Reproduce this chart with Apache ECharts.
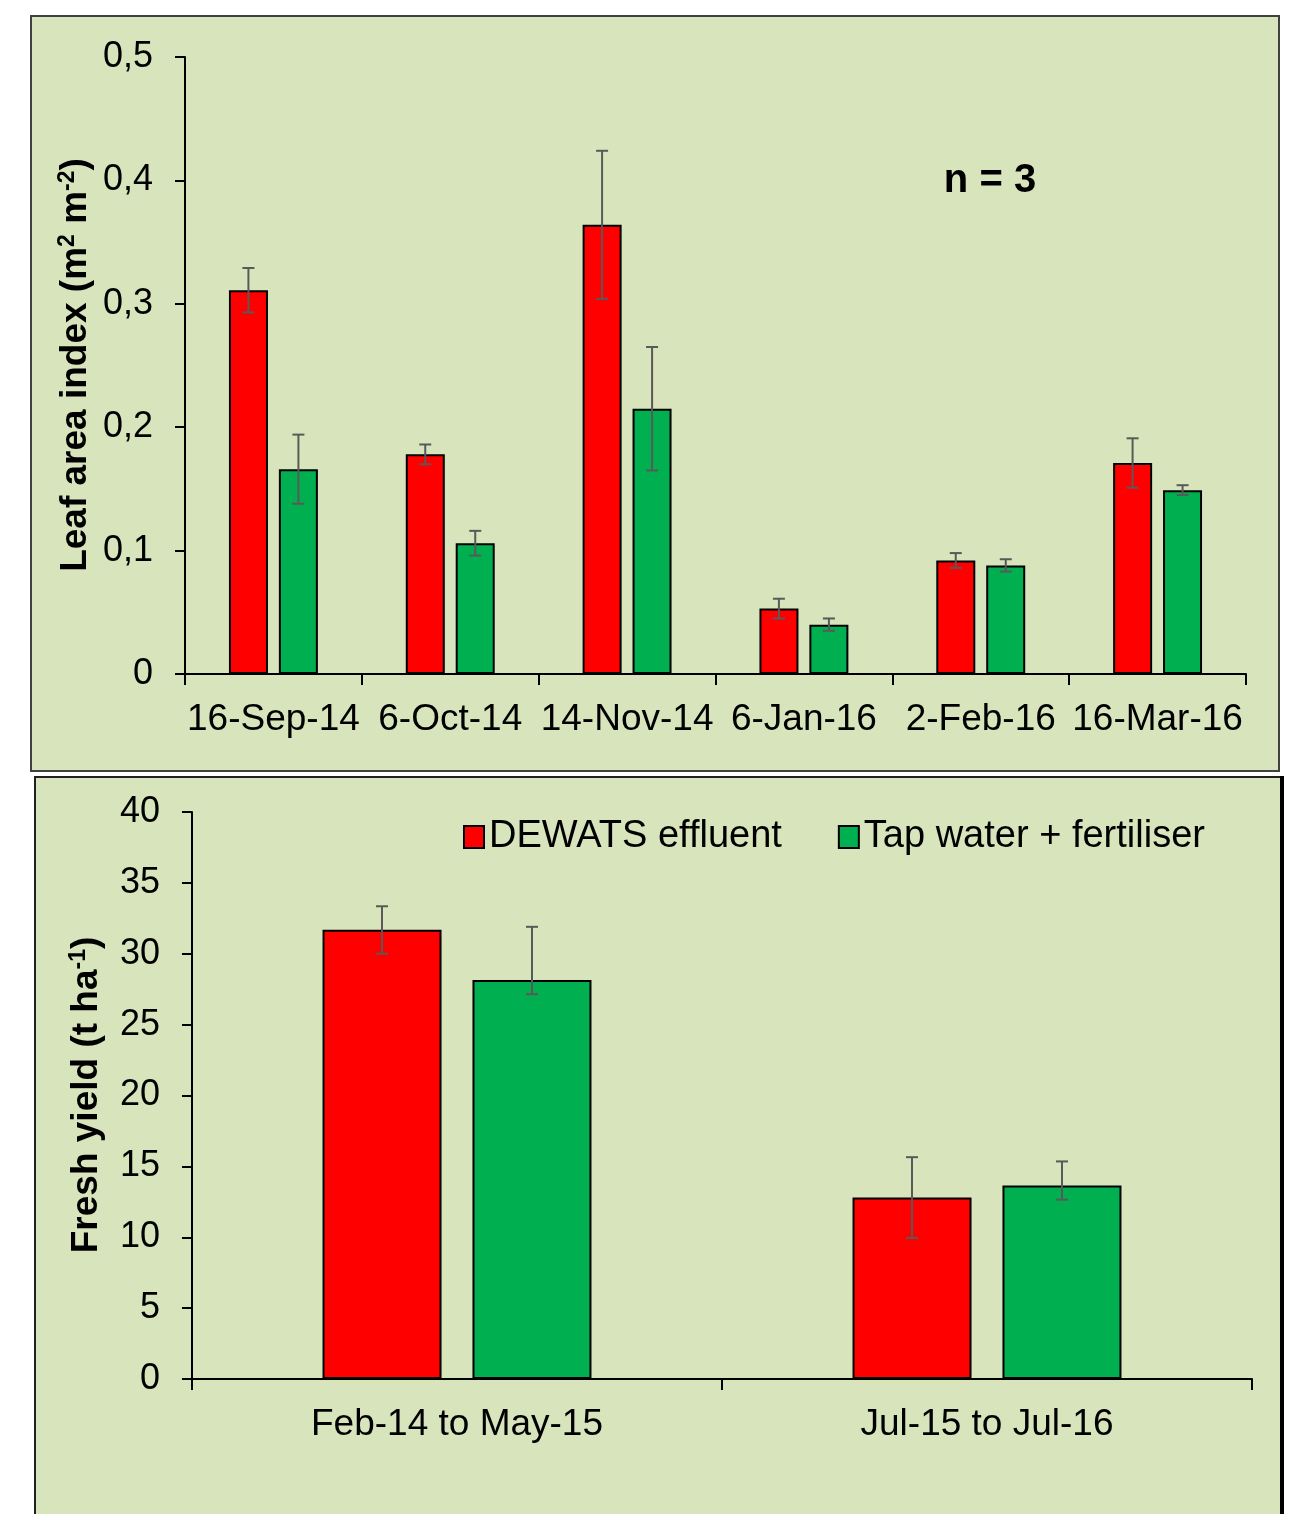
<!DOCTYPE html>
<html>
<head>
<meta charset="utf-8">
<script src="https://cdn.jsdelivr.net/npm/echarts@6/dist/echarts.min.js"></script>
<style>
  html, body { margin: 0; padding: 0; background: #fff; }
  #chart { width: 1295px; height: 1514px; }
</style>
</head>
<body>
<div id="chart"></div>
<script>
// leaf area index, top panel
const laiDates = ['16-Sep-14', '6-Oct-14', '14-Nov-14', '6-Jan-16', '2-Feb-16', '16-Mar-16'];
const laiDewats = [0.311, 0.178, 0.364, 0.053, 0.092, 0.171];
const laiDewatsErr = [0.018, 0.008, 0.060, 0.008, 0.006, 0.020];
const laiTap = [0.166, 0.106, 0.215, 0.040, 0.088, 0.149];
const laiTapErr = [0.028, 0.010, 0.050, 0.005, 0.005, 0.004];

// fresh yield, bottom panel (error bars are not symmetric)
const yieldPeriods = ['Feb-14 to May-15', 'Jul-15 to Jul-16'];
const yieldDewats = [31.7, 12.8];
const yieldDewatsErrUp = [1.65, 2.85];
const yieldDewatsErrDown = [1.7, 2.85];
const yieldTap = [28.15, 13.65];
const yieldTapErrUp = [3.75, 1.7];
const yieldTapErrDown = [1.0, 1.0];

const seriesNames = ['DEWATS effluent', 'Tap water + fertiliser'];
const RED = '#FF0000';
const GREEN = '#00B050';
const FONT = '"Liberation Sans", Arial, sans-serif';

const chart = echarts.init(document.getElementById('chart'));

function errorBars(gridIdx, means, up, down, offset) {
  return {
    type: 'custom',
    xAxisIndex: gridIdx,
    yAxisIndex: gridIdx,
    z: 5,
    silent: true,
    data: means.map((m, i) => [i, m - down[i], m + up[i]]),
    encode: { x: 0, y: [1, 2] },
    renderItem: (params, api) => {
      const i = api.value(0);
      const x = api.coord([i, 0])[0] + offset;
      const yHi = api.coord([i, api.value(2)])[1];
      const yLo = api.coord([i, api.value(1)])[1];
      const style = { stroke: '#595959', lineWidth: 2 };
      return {
        type: 'group',
        children: [
          { type: 'line', shape: { x1: x, y1: yHi, x2: x, y2: yLo }, style },
          { type: 'line', shape: { x1: x - 6, y1: yHi, x2: x + 6, y2: yHi }, style },
          { type: 'line', shape: { x1: x - 6, y1: yLo, x2: x + 6, y2: yLo }, style }
        ]
      };
    }
  };
}

const axisLine = { show: true, lineStyle: { color: '#000', width: 2 } };
const axisTick = { show: true, length: 10, lineStyle: { color: '#000', width: 2 } };
const labelStyle = { color: '#000', fontSize: 36, fontFamily: FONT };

const titleRich = {
  b: { fontSize: 37, fontWeight: 'bold', fontFamily: FONT, fill: '#000', lineHeight: 40 },
  s: { fontSize: 23, fontWeight: 'bold', fontFamily: FONT, fill: '#000', verticalAlign: 'top', lineHeight: 24 }
};

const option = {
  animation: false,
  textStyle: { fontFamily: FONT },
  graphic: [
    {
      type: 'rect', z: -10,
      shape: { x: 31, y: 16, width: 1248, height: 755 },
      style: { fill: '#D8E4BC', stroke: '#404040', lineWidth: 2 }
    },
    {
      type: 'rect', z: -10,
      shape: { x: 35, y: 777, width: 1246, height: 760 },
      style: { fill: '#D8E4BC', stroke: '#202020', lineWidth: 2 }
    },
    {
      type: 'line', z: -9,
      shape: { x1: 1282, y1: 776, x2: 1282, y2: 1514 },
      style: { stroke: '#000', lineWidth: 4 }
    },
    {
      type: 'text', z: 100, x: 76, y: 365, rotation: Math.PI / 2,
      style: {
        text: '{b|Leaf area index (m}{s|2}{b| m}{s|-2}{b|)}',
        align: 'center', verticalAlign: 'middle', rich: titleRich
      }
    },
    {
      type: 'text', z: 100, x: 87, y: 1095, rotation: Math.PI / 2,
      style: {
        text: '{b|Fresh yield (t ha}{s|-1}{b|)}',
        align: 'center', verticalAlign: 'middle', rich: titleRich
      }
    },
    {
      type: 'text', z: 100, x: 990, y: 181,
      style: {
        text: 'n = 3', fontSize: 40, fontWeight: 'bold', fontFamily: FONT, fill: '#000',
        align: 'center', verticalAlign: 'middle'
      }
    }
  ],
  legend: {
    data: seriesNames,
    left: 458,
    top: 813,
    icon: 'rect',
    itemWidth: 20,
    itemHeight: 22,
    itemGap: 56,
    textStyle: { color: '#000', fontSize: 38, fontFamily: FONT }
  },
  grid: [
    { left: 185, right: 49, top: 57, height: 617 },
    { left: 192, right: 43, top: 812, height: 567 }
  ],
  xAxis: [
    {
      type: 'category', gridIndex: 0, data: laiDates,
      axisLine, axisTick: { ...axisTick, length: 11, interval: 0 },
      axisLabel: { ...labelStyle, fontSize: 37, margin: 27, interval: 0 }
    },
    {
      type: 'category', gridIndex: 1, data: yieldPeriods,
      axisLine, axisTick: { ...axisTick, length: 11, interval: 0 },
      axisLabel: { ...labelStyle, fontSize: 37, margin: 27, interval: 0 }
    }
  ],
  yAxis: [
    {
      type: 'value', gridIndex: 0, min: 0, max: 0.5, interval: 0.1,
      axisLine, axisTick, splitLine: { show: false },
      axisLabel: {
        ...labelStyle, margin: 32,
        formatter: v => (v === 0 ? '0' : v.toFixed(1).replace('.', ','))
      }
    },
    {
      type: 'value', gridIndex: 1, min: 0, max: 40, interval: 5,
      axisLine, axisTick, splitLine: { show: false },
      axisLabel: { ...labelStyle, margin: 32 }
    }
  ],
  series: [
    {
      name: seriesNames[0], type: 'bar', xAxisIndex: 0, yAxisIndex: 0,
      barWidth: 39, barGap: '28%', data: laiDewats,
      itemStyle: { color: RED, borderColor: '#000', borderWidth: 2 }
    },
    {
      name: seriesNames[1], type: 'bar', xAxisIndex: 0, yAxisIndex: 0,
      barWidth: 39, barGap: '28%', data: laiTap,
      itemStyle: { color: GREEN, borderColor: '#000', borderWidth: 2 }
    },
    {
      name: seriesNames[0], type: 'bar', xAxisIndex: 1, yAxisIndex: 1,
      barWidth: 119, barGap: '26%', data: yieldDewats,
      itemStyle: { color: RED, borderColor: '#000', borderWidth: 2 }
    },
    {
      name: seriesNames[1], type: 'bar', xAxisIndex: 1, yAxisIndex: 1,
      barWidth: 119, barGap: '26%', data: yieldTap,
      itemStyle: { color: GREEN, borderColor: '#000', borderWidth: 2 }
    },
    errorBars(0, laiDewats, laiDewatsErr, laiDewatsErr, -25),
    errorBars(0, laiTap, laiTapErr, laiTapErr, 25),
    errorBars(1, yieldDewats, yieldDewatsErrUp, yieldDewatsErrDown, -75),
    errorBars(1, yieldTap, yieldTapErrUp, yieldTapErrDown, 75)
  ]
};

chart.setOption(option);
</script>
</body>
</html>
